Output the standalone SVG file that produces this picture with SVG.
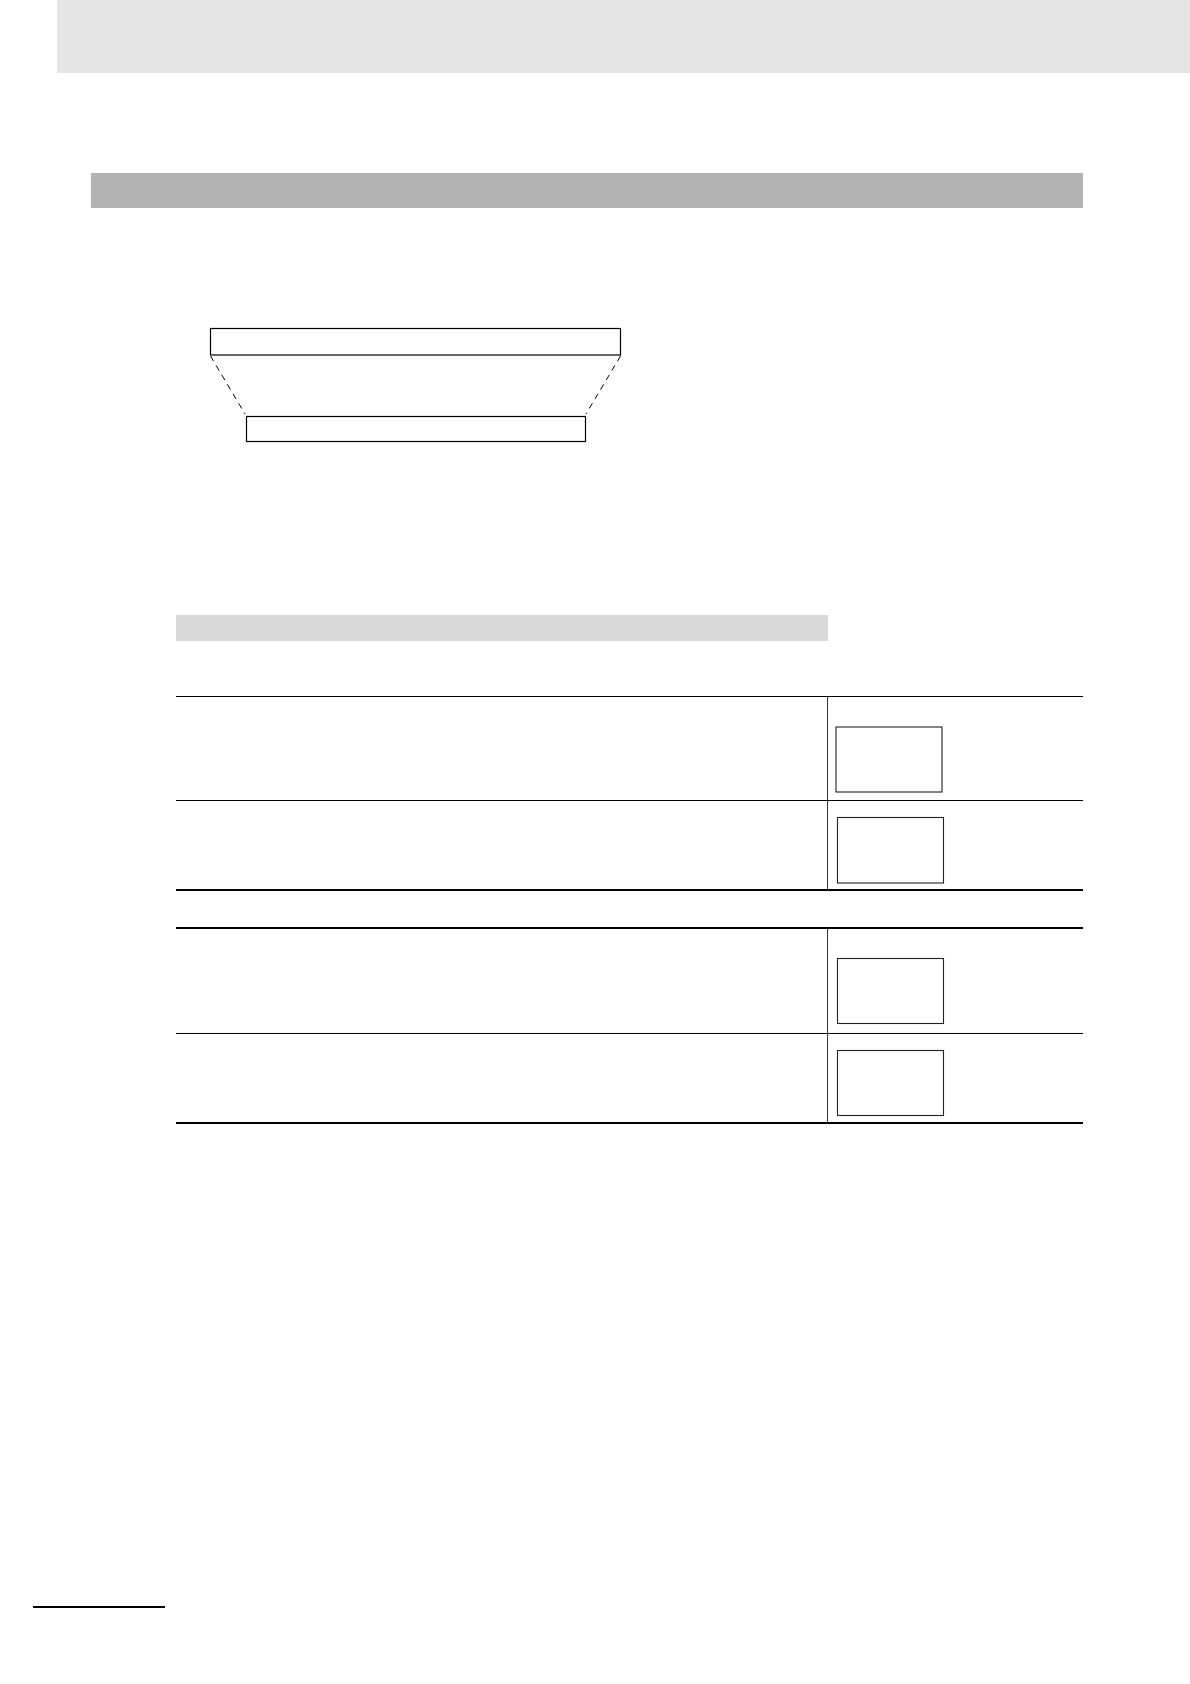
<svg xmlns="http://www.w3.org/2000/svg" width="1190" height="1684" viewBox="0 0 1190 1684">
<style>
.box{fill:#fff;stroke:#000;stroke-width:1.2}
.sbox{fill:#fff;stroke:#222;stroke-width:1.1}
.thin{stroke:#000;stroke-width:1.2}
.thick{stroke:#000;stroke-width:2}
.vsep{stroke:#000;stroke-width:0.8}
.dash{stroke:#000;stroke-width:1;stroke-dasharray:6,5;fill:none}
</style>
<rect width="1190" height="1684" fill="#fff"/>
<rect id="header-band" x="57" y="0" width="1133" height="73" fill="#e6e6e6"/>
<rect id="section-bar" x="91" y="173" width="992" height="35" fill="#b3b3b3"/>
<g id="upper-box"><rect class="box" x="210.5" y="328.5" width="410" height="26.5"/></g>
<g id="lower-box"><rect class="box" x="246.5" y="416.5" width="339" height="25"/></g>
<g id="connectors">
<line class="dash" x1="210.5" y1="356" x2="245" y2="414"/>
<line class="dash" x1="620.5" y1="356" x2="586" y2="414"/>
</g>
<rect id="sub-bar" x="176" y="615" width="652" height="26" fill="#d9d9d9"/>
<g id="table1">
<line class="thin" x1="176" y1="696.5" x2="1083" y2="696.5"/>
<line class="thin" x1="176" y1="800.5" x2="1083" y2="800.5"/>
<line class="vsep" x1="827.5" y1="696.5" x2="827.5" y2="890"/>
<line class="thick" x1="176" y1="890" x2="1083" y2="890"/>
</g>
<g id="cell-box-1"><rect class="sbox" x="836" y="727" width="106" height="65"/></g>
<g id="cell-box-2"><rect class="sbox" x="837.5" y="817.5" width="106" height="65.5"/></g>
<g id="table2">
<line class="thick" x1="176" y1="928" x2="1083" y2="928"/>
<line class="thin" x1="176" y1="1033.5" x2="1083" y2="1033.5"/>
<line class="vsep" x1="827.5" y1="928" x2="827.5" y2="1123"/>
<line class="thick" x1="176" y1="1123" x2="1083" y2="1123"/>
</g>
<g id="cell-box-3"><rect class="sbox" x="837.5" y="958.5" width="106" height="65"/></g>
<g id="cell-box-4"><rect class="sbox" x="837.5" y="1050.5" width="106" height="65"/></g>
<line id="footer-rule" class="thick" x1="33" y1="1607" x2="165" y2="1607"/>
</svg>
